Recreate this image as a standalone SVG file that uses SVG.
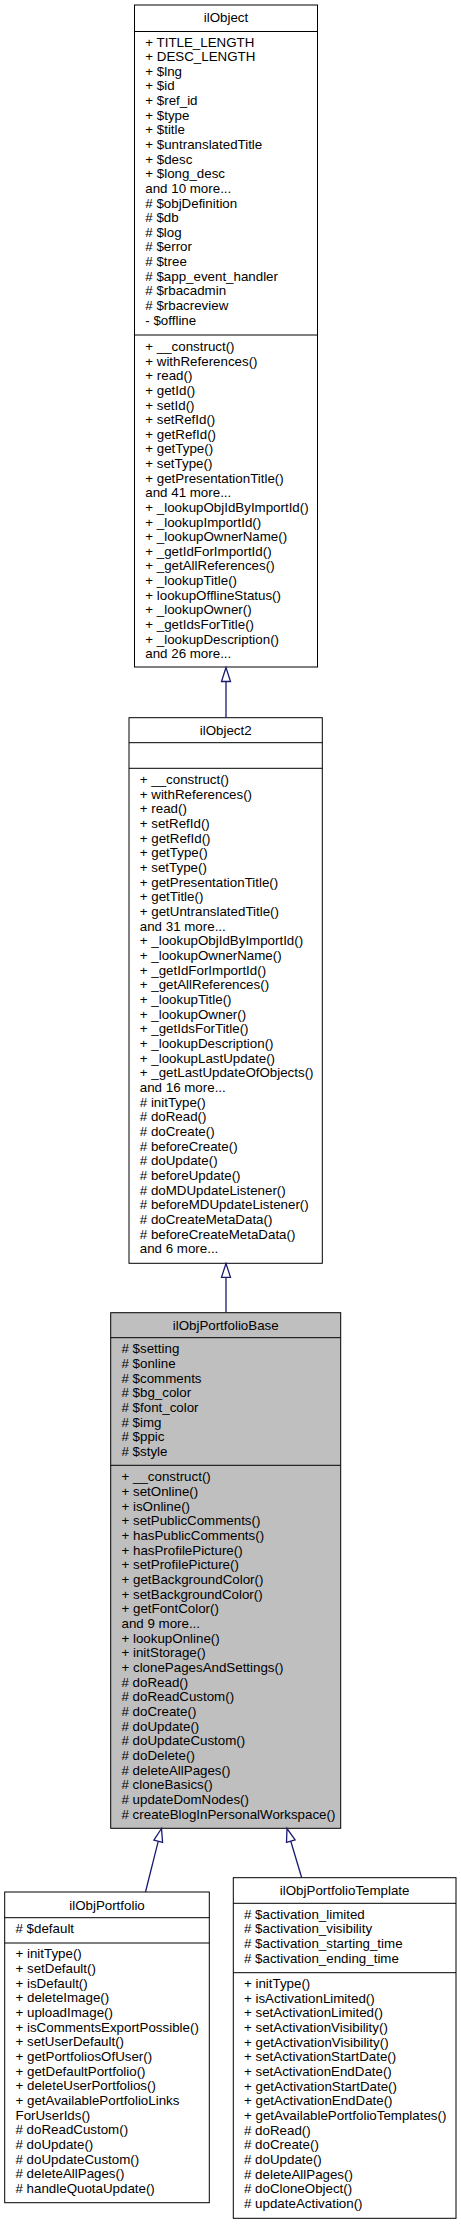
<svg xmlns="http://www.w3.org/2000/svg" width="461" height="2224" viewBox="0 0 461 2224">
<style>
.box{fill:#ffffff;stroke:#000000;stroke-width:1}
.cur{fill:#bfbfbf;stroke:#000000;stroke-width:1}
.sep{stroke:#000000;stroke-width:1}
text{font-family:"Liberation Sans",Arial,Helvetica,sans-serif;font-size:13.33px;fill:#000000}
.t{text-anchor:middle}
.edge{stroke:#191970;stroke-width:1.3;fill:none}
.head{stroke:#191970;stroke-width:1.3;fill:#ffffff}
</style>
<rect width="461" height="2224" fill="#ffffff"/>
<g id="ilObject">
<rect class="box" x="134.5" y="5" width="183" height="662"/>
<line class="sep" x1="134.5" y1="31.5" x2="317.5" y2="31.5"/>
<line class="sep" x1="134.5" y1="335" x2="317.5" y2="335"/>
<text class="t" x="226" y="22">ilObject</text>
<text x="145.3" y="46.6"><tspan x="145.3">+ TITLE_LENGTH</tspan><tspan x="145.3" dy="14.63">+ DESC_LENGTH</tspan><tspan x="145.3" dy="14.63">+ $lng</tspan><tspan x="145.3" dy="14.63">+ $id</tspan><tspan x="145.3" dy="14.63">+ $ref_id</tspan><tspan x="145.3" dy="14.63">+ $type</tspan><tspan x="145.3" dy="14.63">+ $title</tspan><tspan x="145.3" dy="14.63">+ $untranslatedTitle</tspan><tspan x="145.3" dy="14.63">+ $desc</tspan><tspan x="145.3" dy="14.63">+ $long_desc</tspan><tspan x="145.3" dy="14.63">and 10 more...</tspan><tspan x="145.3" dy="14.63"># $objDefinition</tspan><tspan x="145.3" dy="14.63"># $db</tspan><tspan x="145.3" dy="14.63"># $log</tspan><tspan x="145.3" dy="14.63"># $error</tspan><tspan x="145.3" dy="14.63"># $tree</tspan><tspan x="145.3" dy="14.63"># $app_event_handler</tspan><tspan x="145.3" dy="14.63"># $rbacadmin</tspan><tspan x="145.3" dy="14.63"># $rbacreview</tspan><tspan x="145.3" dy="14.63">- $offline</tspan></text>
<text x="145.3" y="351"><tspan x="145.3">+ __construct()</tspan><tspan x="145.3" dy="14.63">+ withReferences()</tspan><tspan x="145.3" dy="14.63">+ read()</tspan><tspan x="145.3" dy="14.63">+ getId()</tspan><tspan x="145.3" dy="14.63">+ setId()</tspan><tspan x="145.3" dy="14.63">+ setRefId()</tspan><tspan x="145.3" dy="14.63">+ getRefId()</tspan><tspan x="145.3" dy="14.63">+ getType()</tspan><tspan x="145.3" dy="14.63">+ setType()</tspan><tspan x="145.3" dy="14.63">+ getPresentationTitle()</tspan><tspan x="145.3" dy="14.63">and 41 more...</tspan><tspan x="145.3" dy="14.63">+ _lookupObjIdByImportId()</tspan><tspan x="145.3" dy="14.63">+ _lookupImportId()</tspan><tspan x="145.3" dy="14.63">+ _lookupOwnerName()</tspan><tspan x="145.3" dy="14.63">+ _getIdForImportId()</tspan><tspan x="145.3" dy="14.63">+ _getAllReferences()</tspan><tspan x="145.3" dy="14.63">+ _lookupTitle()</tspan><tspan x="145.3" dy="14.63">+ lookupOfflineStatus()</tspan><tspan x="145.3" dy="14.63">+ _lookupOwner()</tspan><tspan x="145.3" dy="14.63">+ _getIdsForTitle()</tspan><tspan x="145.3" dy="14.63">+ _lookupDescription()</tspan><tspan x="145.3" dy="14.63">and 26 more...</tspan></text>
</g>
<g id="ilObject2">
<rect class="box" x="129" y="717.7" width="193.3" height="545.6"/>
<line class="sep" x1="129" y1="742.7" x2="322.3" y2="742.7"/>
<line class="sep" x1="129" y1="768.3" x2="322.3" y2="768.3"/>
<text class="t" x="225.7" y="735">ilObject2</text>
<text x="139.8" y="784"><tspan x="139.8">+ __construct()</tspan><tspan x="139.8" dy="14.67">+ withReferences()</tspan><tspan x="139.8" dy="14.67">+ read()</tspan><tspan x="139.8" dy="14.67">+ setRefId()</tspan><tspan x="139.8" dy="14.67">+ getRefId()</tspan><tspan x="139.8" dy="14.67">+ getType()</tspan><tspan x="139.8" dy="14.67">+ setType()</tspan><tspan x="139.8" dy="14.67">+ getPresentationTitle()</tspan><tspan x="139.8" dy="14.67">+ getTitle()</tspan><tspan x="139.8" dy="14.67">+ getUntranslatedTitle()</tspan><tspan x="139.8" dy="14.67">and 31 more...</tspan><tspan x="139.8" dy="14.67">+ _lookupObjIdByImportId()</tspan><tspan x="139.8" dy="14.67">+ _lookupOwnerName()</tspan><tspan x="139.8" dy="14.67">+ _getIdForImportId()</tspan><tspan x="139.8" dy="14.67">+ _getAllReferences()</tspan><tspan x="139.8" dy="14.67">+ _lookupTitle()</tspan><tspan x="139.8" dy="14.67">+ _lookupOwner()</tspan><tspan x="139.8" dy="14.67">+ _getIdsForTitle()</tspan><tspan x="139.8" dy="14.67">+ _lookupDescription()</tspan><tspan x="139.8" dy="14.67">+ _lookupLastUpdate()</tspan><tspan x="139.8" dy="14.67">+ _getLastUpdateOfObjects()</tspan><tspan x="139.8" dy="14.67">and 16 more...</tspan><tspan x="139.8" dy="14.67"># initType()</tspan><tspan x="139.8" dy="14.67"># doRead()</tspan><tspan x="139.8" dy="14.67"># doCreate()</tspan><tspan x="139.8" dy="14.67"># beforeCreate()</tspan><tspan x="139.8" dy="14.67"># doUpdate()</tspan><tspan x="139.8" dy="14.67"># beforeUpdate()</tspan><tspan x="139.8" dy="14.67"># doMDUpdateListener()</tspan><tspan x="139.8" dy="14.67"># beforeMDUpdateListener()</tspan><tspan x="139.8" dy="14.67"># doCreateMetaData()</tspan><tspan x="139.8" dy="14.67"># beforeCreateMetaData()</tspan><tspan x="139.8" dy="14.67">and 6 more...</tspan></text>
</g>
<g id="ilObjPortfolioBase">
<rect class="cur" x="110.7" y="1312.7" width="230" height="515.6"/>
<line class="sep" x1="110.7" y1="1337.7" x2="340.7" y2="1337.7"/>
<line class="sep" x1="110.7" y1="1465.3" x2="340.7" y2="1465.3"/>
<text class="t" x="225.7" y="1329.8">ilObjPortfolioBase</text>
<text x="121.5" y="1353.3"><tspan x="121.5"># $setting</tspan><tspan x="121.5" dy="14.67"># $online</tspan><tspan x="121.5" dy="14.67"># $comments</tspan><tspan x="121.5" dy="14.67"># $bg_color</tspan><tspan x="121.5" dy="14.67"># $font_color</tspan><tspan x="121.5" dy="14.67"># $img</tspan><tspan x="121.5" dy="14.67"># $ppic</tspan><tspan x="121.5" dy="14.67"># $style</tspan></text>
<text x="121.5" y="1481.3"><tspan x="121.5">+ __construct()</tspan><tspan x="121.5" dy="14.67">+ setOnline()</tspan><tspan x="121.5" dy="14.67">+ isOnline()</tspan><tspan x="121.5" dy="14.67">+ setPublicComments()</tspan><tspan x="121.5" dy="14.67">+ hasPublicComments()</tspan><tspan x="121.5" dy="14.67">+ hasProfilePicture()</tspan><tspan x="121.5" dy="14.67">+ setProfilePicture()</tspan><tspan x="121.5" dy="14.67">+ getBackgroundColor()</tspan><tspan x="121.5" dy="14.67">+ setBackgroundColor()</tspan><tspan x="121.5" dy="14.67">+ getFontColor()</tspan><tspan x="121.5" dy="14.67">and 9 more...</tspan><tspan x="121.5" dy="14.67">+ lookupOnline()</tspan><tspan x="121.5" dy="14.67">+ initStorage()</tspan><tspan x="121.5" dy="14.67">+ clonePagesAndSettings()</tspan><tspan x="121.5" dy="14.67"># doRead()</tspan><tspan x="121.5" dy="14.67"># doReadCustom()</tspan><tspan x="121.5" dy="14.67"># doCreate()</tspan><tspan x="121.5" dy="14.67"># doUpdate()</tspan><tspan x="121.5" dy="14.67"># doUpdateCustom()</tspan><tspan x="121.5" dy="14.67"># doDelete()</tspan><tspan x="121.5" dy="14.67"># deleteAllPages()</tspan><tspan x="121.5" dy="14.67"># cloneBasics()</tspan><tspan x="121.5" dy="14.67"># updateDomNodes()</tspan><tspan x="121.5" dy="14.67"># createBlogInPersonalWorkspace()</tspan></text>
</g>
<g id="ilObjPortfolio">
<rect class="box" x="4.7" y="1892" width="204.6" height="310.7"/>
<line class="sep" x1="4.7" y1="1917.7" x2="209.3" y2="1917.7"/>
<line class="sep" x1="4.7" y1="1943" x2="209.3" y2="1943"/>
<text class="t" x="107" y="1909.5">ilObjPortfolio</text>
<text x="15.5" y="1933.3"># $default</text>
<text x="15.5" y="1958.3"><tspan x="15.5">+ initType()</tspan><tspan x="15.5" dy="14.67">+ setDefault()</tspan><tspan x="15.5" dy="14.67">+ isDefault()</tspan><tspan x="15.5" dy="14.67">+ deleteImage()</tspan><tspan x="15.5" dy="14.67">+ uploadImage()</tspan><tspan x="15.5" dy="14.67">+ isCommentsExportPossible()</tspan><tspan x="15.5" dy="14.67">+ setUserDefault()</tspan><tspan x="15.5" dy="14.67">+ getPortfoliosOfUser()</tspan><tspan x="15.5" dy="14.67">+ getDefaultPortfolio()</tspan><tspan x="15.5" dy="14.67">+ deleteUserPortfolios()</tspan><tspan x="15.5" dy="14.67">+ getAvailablePortfolioLinks</tspan><tspan x="15.5" dy="14.67">ForUserIds()</tspan><tspan x="15.5" dy="14.67"># doReadCustom()</tspan><tspan x="15.5" dy="14.67"># doUpdate()</tspan><tspan x="15.5" dy="14.67"># doUpdateCustom()</tspan><tspan x="15.5" dy="14.67"># deleteAllPages()</tspan><tspan x="15.5" dy="14.67"># handleQuotaUpdate()</tspan></text>
</g>
<g id="ilObjPortfolioTemplate">
<rect class="box" x="233.3" y="1877.7" width="222.7" height="340.6"/>
<line class="sep" x1="233.3" y1="1903.3" x2="456" y2="1903.3"/>
<line class="sep" x1="233.3" y1="1972.7" x2="456" y2="1972.7"/>
<text class="t" x="344.65" y="1895">ilObjPortfolioTemplate</text>
<text x="244" y="1918.6"><tspan x="244"># $activation_limited</tspan><tspan x="244" dy="14.67"># $activation_visibility</tspan><tspan x="244" dy="14.67"># $activation_starting_time</tspan><tspan x="244" dy="14.67"># $activation_ending_time</tspan></text>
<text x="244" y="1988.1"><tspan x="244">+ initType()</tspan><tspan x="244" dy="14.67">+ isActivationLimited()</tspan><tspan x="244" dy="14.67">+ setActivationLimited()</tspan><tspan x="244" dy="14.67">+ setActivationVisibility()</tspan><tspan x="244" dy="14.67">+ getActivationVisibility()</tspan><tspan x="244" dy="14.67">+ setActivationStartDate()</tspan><tspan x="244" dy="14.67">+ setActivationEndDate()</tspan><tspan x="244" dy="14.67">+ getActivationStartDate()</tspan><tspan x="244" dy="14.67">+ getActivationEndDate()</tspan><tspan x="244" dy="14.67">+ getAvailablePortfolioTemplates()</tspan><tspan x="244" dy="14.67"># doRead()</tspan><tspan x="244" dy="14.67"># doCreate()</tspan><tspan x="244" dy="14.67"># doUpdate()</tspan><tspan x="244" dy="14.67"># deleteAllPages()</tspan><tspan x="244" dy="14.67"># doCloneObject()</tspan><tspan x="244" dy="14.67"># updateActivation()</tspan></text>
</g>
<g id="connectors">
<line class="edge" x1="226" y1="717.7" x2="226" y2="681.5"/>
<polygon class="head" points="226,667.5 221.5,681.5 230.5,681.5"/>
<line class="edge" x1="226" y1="1312.7" x2="226" y2="1277.3"/>
<polygon class="head" points="226,1263.5 221.5,1277.3 230.5,1277.3"/>
<line class="edge" x1="145.5" y1="1892" x2="158.2" y2="1841.3"/>
<polygon class="head" points="161.5,1828.5 153.9,1840.2 162.6,1842.4"/>
<line class="edge" x1="301.7" y1="1877.7" x2="290.8" y2="1841.2"/>
<polygon class="head" points="287,1828.5 286.5,1842.4 295.1,1839.9"/>
</g>
</svg>
